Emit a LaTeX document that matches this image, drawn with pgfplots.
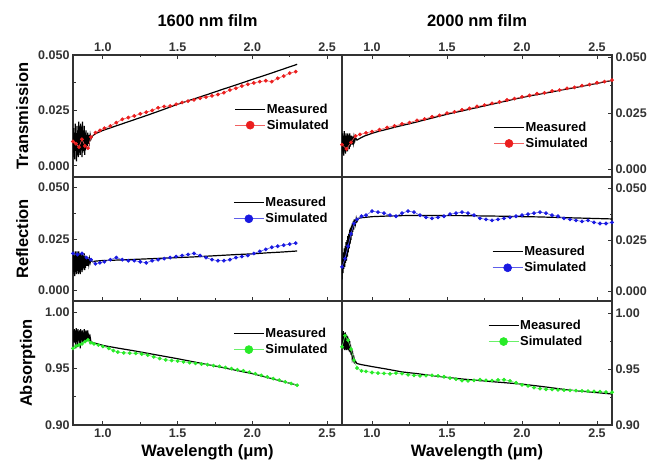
\documentclass[border=0pt]{standalone}
\usepackage{fontspec}
\setmainfont{Liberation Sans}
\usepackage{pgfplots}
\pgfplotsset{compat=1.18}

\definecolor{axgray}{RGB}{50,50,50}
\definecolor{simred}{RGB}{235,30,30}
\definecolor{simblue}{RGB}{25,25,225}
\definecolor{simgreen}{RGB}{40,235,40}

\pgfplotsset{
 panel/.style={
  scale only axis, width=269pt, xmin=0.8, xmax=2.6,
  scaled ticks=false,
  axis line style={axgray, line width=1.1pt},
  tick style={axgray, line width=0.9pt},
  major tick length=4pt, minor tick length=2.5pt,
  xtick={1.0,1.5,2.0,2.5}, xticklabels={1.0,1.5,2.0,2.5},
  minor x tick num=1, minor y tick num=1,
  tick label style={font=\fontsize{12.5}{14}\selectfont\bfseries, text=axgray},
  label style={font=\fontsize{16.5}{18}\selectfont\bfseries},
  ylabel style={yshift=3pt},
  legend style={draw=none, fill=none, font=\fontsize{13}{15}\selectfont\bfseries,
     anchor=north west, row sep=3pt, inner sep=0pt, nodes={inner sep=1pt}},
  legend cell align=left,
  legend image code/.code={\draw[mark repeat=2,mark phase=2,##1] plot coordinates {(0pt,0pt) (15pt,0pt) (30pt,0pt)};},
 },
 meas/.style={black, line width=1.2pt, mark=none},
 sim/.style={#1!70, line width=0.6pt, mark=*, mark size=1.6pt, mark options={fill=#1, draw=#1},
   legend image post style={mark size=4pt}},
 toprow/.style={height=122pt, xtick pos=right, xticklabel pos=right, xlabel style={yshift=9pt}},
 midrow/.style={height=124pt, xtick pos=left, xticklabels={}},
 botrow/.style={height=124pt, xtick pos=left, xticklabel pos=left, xlabel={Wavelength (μm)}},
 leftcol/.style={ytick pos=left, yticklabel pos=left},
 rightcol/.style={ytick pos=right, yticklabel pos=right},
}

\begin{document}
\begin{tikzpicture}[x=1pt,y=1pt]
\useasboundingbox (0,0) rectangle (660,470);

% ---------- top left: 1600 nm transmission
\begin{axis}[panel, toprow, leftcol, at={(73pt,293pt)}, anchor=south west,
  ymin=-0.005, ymax=0.050, ytick={0,0.025,0.05}, yticklabels={0.000,0.025,0.050},
  ylabel={Transmission}, xlabel={1600 nm film},
  legend style={at={(0.60,0.61)}}]
\addplot[meas] coordinates {(0.800,0.004)(0.803,0.017)(0.806,0.006)(0.809,0.015)(0.812,0.003)(0.815,0.019)(0.818,0.007)(0.821,0.014)(0.824,0.002)(0.827,0.018)(0.830,0.008)(0.833,0.016)(0.836,0.004)(0.839,0.020)(0.842,0.006)(0.845,0.015)(0.848,0.005)(0.851,0.019)(0.854,0.007)(0.857,0.017)(0.860,0.004)(0.863,0.020)(0.866,0.006)(0.869,0.016)(0.872,0.008)(0.875,0.018)(0.878,0.005)(0.881,0.015)(0.884,0.007)(0.887,0.016)(0.890,0.008)(0.893,0.014)(0.896,0.009)(0.899,0.015)(0.902,0.010)(0.906,0.014)(0.910,0.011)(0.915,0.014)(0.920,0.012)(0.930,0.0135)(0.95,0.0145)(1.00,0.0160)(1.10,0.0183)(1.20,0.0206)(1.30,0.0229)(1.40,0.0253)(1.50,0.0278)(1.60,0.0300)(1.70,0.0322)(1.80,0.0345)(1.90,0.0367)(2.00,0.0390)(2.10,0.0412)(2.20,0.0435)(2.30,0.0458)};
\addlegendentry{Measured}
\addplot[sim=simred] coordinates {(0.80,0.011)(0.82,0.010)(0.84,0.0085)(0.86,0.012)(0.88,0.009)(0.90,0.008)(0.92,0.013)(0.95,0.0150)(0.98,0.0160)(1.01,0.0170)(1.05,0.0180)(1.09,0.0195)(1.13,0.0210)(1.17,0.0218)(1.21,0.0225)(1.25,0.0235)(1.29,0.0242)(1.33,0.0250)(1.37,0.0262)(1.41,0.0268)(1.45,0.0270)(1.49,0.0278)(1.53,0.0286)(1.57,0.0292)(1.61,0.0298)(1.65,0.0305)(1.69,0.0310)(1.73,0.0316)(1.77,0.0322)(1.81,0.0330)(1.85,0.0342)(1.89,0.0350)(1.93,0.0360)(1.97,0.0368)(2.01,0.0374)(2.05,0.0380)(2.09,0.0384)(2.13,0.0380)(2.17,0.0395)(2.21,0.0405)(2.25,0.0418)(2.29,0.0425)};
\addlegendentry{Simulated}
\end{axis}

% ---------- top right: 2000 nm transmission
\begin{axis}[panel, toprow, rightcol, width=270pt, at={(342pt,293pt)}, anchor=south west,
  ymin=-0.0035, ymax=0.051, ytick={0,0.025,0.05}, yticklabels={0.000,0.025,0.050},
  xlabel={2000 nm film},
  legend style={at={(0.56,0.46)}}]
\addplot[meas] coordinates {(0.800,0.008)(0.803,0.016)(0.806,0.007)(0.809,0.015)(0.812,0.006)(0.815,0.017)(0.818,0.008)(0.821,0.015)(0.824,0.007)(0.827,0.016)(0.830,0.009)(0.833,0.015)(0.836,0.008)(0.839,0.016)(0.842,0.010)(0.845,0.015)(0.848,0.009)(0.851,0.016)(0.854,0.010)(0.857,0.015)(0.860,0.011)(0.864,0.015)(0.868,0.011)(0.872,0.0145)(0.876,0.012)(0.880,0.0145)(0.885,0.0125)(0.890,0.014)(0.900,0.013)(0.920,0.0138)(0.95,0.0148)(1.00,0.0160)(1.05,0.0170)(1.10,0.0178)(1.15,0.0187)(1.20,0.0195)(1.25,0.0203)(1.30,0.0211)(1.35,0.0220)(1.40,0.0228)(1.45,0.0237)(1.50,0.0245)(1.55,0.0253)(1.60,0.0260)(1.65,0.0268)(1.70,0.0275)(1.75,0.0283)(1.80,0.0290)(1.85,0.0298)(1.90,0.0305)(1.95,0.0313)(2.00,0.0320)(2.05,0.0327)(2.10,0.0333)(2.15,0.0339)(2.20,0.0345)(2.25,0.0352)(2.30,0.0358)(2.35,0.0364)(2.40,0.0370)(2.45,0.0377)(2.50,0.0383)(2.55,0.0390)(2.60,0.0396)};
\addlegendentry{Measured}
\addplot[sim=simred] coordinates {(0.80,0.011)(0.83,0.009)(0.86,0.012)(0.89,0.0148)(0.92,0.0155)(0.96,0.0162)(1.00,0.0168)(1.05,0.0176)(1.10,0.0186)(1.15,0.0193)(1.20,0.0202)(1.25,0.0208)(1.30,0.0218)(1.35,0.0224)(1.40,0.0234)(1.45,0.0240)(1.50,0.0250)(1.55,0.0256)(1.60,0.0265)(1.65,0.0271)(1.70,0.0280)(1.75,0.0286)(1.80,0.0294)(1.85,0.0300)(1.90,0.0309)(1.95,0.0315)(2.00,0.0323)(2.05,0.0329)(2.10,0.0337)(2.15,0.0341)(2.20,0.0349)(2.25,0.0353)(2.30,0.0361)(2.35,0.0365)(2.40,0.0373)(2.45,0.0378)(2.50,0.0386)(2.55,0.0391)(2.60,0.0398)};
\addlegendentry{Simulated}
\end{axis}

% ---------- middle left: 1600 nm reflection
\begin{axis}[panel, midrow, leftcol, at={(73pt,169pt)}, anchor=south west,
  ymin=-0.005, ymax=0.055, ytick={0,0.025,0.05}, yticklabels={0.000,0.025,0.050},
  ylabel={Reflection},
  legend style={at={(0.595,0.845)}}]
\addplot[meas] coordinates {(0.800,0.010)(0.803,0.018)(0.806,0.008)(0.809,0.017)(0.812,0.007)(0.815,0.019)(0.818,0.009)(0.821,0.018)(0.824,0.008)(0.827,0.019)(0.830,0.010)(0.833,0.017)(0.836,0.008)(0.839,0.019)(0.842,0.009)(0.845,0.018)(0.848,0.008)(0.851,0.018)(0.854,0.010)(0.857,0.017)(0.860,0.009)(0.863,0.018)(0.866,0.010)(0.869,0.017)(0.872,0.011)(0.875,0.018)(0.878,0.010)(0.881,0.017)(0.884,0.011)(0.887,0.016)(0.890,0.012)(0.894,0.016)(0.898,0.012)(0.902,0.016)(0.906,0.013)(0.910,0.0155)(0.915,0.0135)(0.920,0.015)(0.930,0.014)(0.95,0.0143)(1.00,0.0146)(1.10,0.0148)(1.20,0.0151)(1.30,0.0154)(1.40,0.0157)(1.50,0.0160)(1.60,0.0163)(1.70,0.0167)(1.80,0.0171)(1.90,0.0175)(2.00,0.0178)(2.10,0.0183)(2.20,0.0187)(2.30,0.0192)};
\addlegendentry{Measured}
\addplot[sim=simblue] coordinates {(0.80,0.018)(0.83,0.0175)(0.86,0.018)(0.89,0.016)(0.92,0.015)(0.95,0.013)(0.98,0.0135)(1.01,0.014)(1.05,0.015)(1.09,0.016)(1.13,0.015)(1.17,0.0145)(1.21,0.0145)(1.25,0.014)(1.29,0.0135)(1.33,0.0145)(1.37,0.015)(1.41,0.0155)(1.45,0.016)(1.49,0.0165)(1.53,0.017)(1.57,0.0175)(1.61,0.018)(1.65,0.017)(1.69,0.016)(1.73,0.015)(1.77,0.0145)(1.81,0.0145)(1.85,0.015)(1.89,0.016)(1.93,0.0165)(1.97,0.017)(2.01,0.018)(2.05,0.019)(2.09,0.020)(2.13,0.021)(2.17,0.0215)(2.21,0.022)(2.25,0.0225)(2.29,0.023)};
\addlegendentry{Simulated}
\end{axis}

% ---------- middle right: 2000 nm reflection
\begin{axis}[panel, midrow, rightcol, width=270pt, at={(342pt,169pt)}, anchor=south west,
  ymin=-0.0045, ymax=0.0555, ytick={0,0.025,0.05}, yticklabels={0.000,0.025,0.050},
  legend style={at={(0.555,0.45)}}]
\addplot[meas] coordinates {(0.800,0.006)(0.803,0.016)(0.806,0.009)(0.809,0.019)(0.812,0.011)(0.815,0.021)(0.818,0.012)(0.821,0.022)(0.824,0.014)(0.827,0.024)(0.830,0.015)(0.833,0.025)(0.836,0.017)(0.839,0.027)(0.842,0.019)(0.845,0.028)(0.848,0.021)(0.851,0.030)(0.854,0.023)(0.857,0.031)(0.860,0.025)(0.863,0.032)(0.866,0.027)(0.869,0.033)(0.872,0.029)(0.875,0.034)(0.878,0.030)(0.881,0.035)(0.884,0.032)(0.887,0.035)(0.890,0.033)(0.895,0.0355)(0.900,0.034)(0.910,0.0355)(0.930,0.0358)(0.960,0.0360)(1.00,0.0363)(1.10,0.0366)(1.20,0.0368)(1.30,0.0369)(1.40,0.0369)(1.50,0.0368)(1.60,0.0368)(1.70,0.0367)(1.80,0.0366)(1.90,0.0365)(2.00,0.0363)(2.10,0.0362)(2.20,0.0360)(2.30,0.0358)(2.40,0.0356)(2.50,0.0354)(2.60,0.0352)};
\addlegendentry{Measured}
\addplot[sim=simblue] coordinates {(0.80,0.012)(0.82,0.016)(0.84,0.022)(0.86,0.028)(0.88,0.033)(0.90,0.035)(0.93,0.0365)(0.96,0.037)(1.00,0.039)(1.04,0.0385)(1.08,0.038)(1.12,0.037)(1.16,0.0365)(1.20,0.038)(1.24,0.039)(1.28,0.0385)(1.32,0.037)(1.36,0.036)(1.40,0.0355)(1.44,0.036)(1.48,0.0365)(1.52,0.0375)(1.56,0.038)(1.60,0.0385)(1.64,0.038)(1.68,0.037)(1.72,0.0355)(1.76,0.035)(1.80,0.0345)(1.84,0.035)(1.88,0.0355)(1.92,0.036)(1.96,0.0365)(2.00,0.037)(2.04,0.0375)(2.08,0.038)(2.12,0.0385)(2.16,0.038)(2.20,0.037)(2.24,0.0365)(2.28,0.0355)(2.32,0.035)(2.36,0.0345)(2.40,0.034)(2.44,0.0345)(2.48,0.0335)(2.52,0.033)(2.56,0.033)(2.60,0.0335)};
\addlegendentry{Simulated}
\end{axis}

% ---------- bottom left: 1600 nm absorption
\begin{axis}[panel, botrow, leftcol, at={(73pt,45pt)}, anchor=south west,
  ymin=0.90, ymax=1.01, ytick={0.90,0.95,1.00}, yticklabels={0.90,0.95,1.00},
  ylabel={Absorption},
  legend style={at={(0.595,0.79)}}]
\addplot[meas] coordinates {(0.800,0.975)(0.803,0.984)(0.806,0.973)(0.809,0.985)(0.812,0.974)(0.815,0.983)(0.818,0.968)(0.821,0.986)(0.824,0.974)(0.827,0.984)(0.830,0.969)(0.833,0.985)(0.836,0.975)(0.839,0.983)(0.842,0.973)(0.845,0.984)(0.848,0.968)(0.851,0.985)(0.854,0.975)(0.857,0.983)(0.860,0.973)(0.863,0.984)(0.866,0.974)(0.869,0.982)(0.872,0.973)(0.875,0.985)(0.878,0.974)(0.881,0.983)(0.884,0.975)(0.887,0.984)(0.890,0.974)(0.893,0.983)(0.896,0.975)(0.899,0.984)(0.902,0.975)(0.906,0.981)(0.910,0.975)(0.915,0.978)(0.920,0.974)(0.935,0.973)(0.95,0.9725)(1.00,0.9706)(1.10,0.9682)(1.20,0.9660)(1.30,0.9636)(1.40,0.9612)(1.50,0.9588)(1.60,0.9562)(1.70,0.9536)(1.80,0.9510)(1.90,0.9483)(2.00,0.9456)(2.10,0.9422)(2.20,0.9388)(2.30,0.9353)};
\addlegendentry{Measured}
\addplot[sim=simgreen] coordinates {(0.80,0.968)(0.82,0.970)(0.84,0.971)(0.86,0.972)(0.88,0.974)(0.90,0.9755)(0.92,0.973)(0.94,0.972)(0.97,0.971)(1.00,0.9697)(1.04,0.968)(1.07,0.966)(1.10,0.9647)(1.14,0.9640)(1.18,0.9638)(1.22,0.9636)(1.26,0.9630)(1.30,0.9620)(1.34,0.9605)(1.38,0.9590)(1.42,0.9578)(1.46,0.9572)(1.50,0.9567)(1.54,0.9560)(1.58,0.9553)(1.62,0.9547)(1.66,0.9541)(1.70,0.9535)(1.74,0.9527)(1.78,0.9520)(1.82,0.9510)(1.86,0.9500)(1.90,0.9490)(1.94,0.9480)(1.98,0.9468)(2.02,0.9455)(2.06,0.9440)(2.10,0.9426)(2.14,0.9412)(2.18,0.9398)(2.22,0.9383)(2.26,0.9368)(2.30,0.9353)};
\addlegendentry{Simulated}
\end{axis}

% ---------- bottom right: 2000 nm absorption
\begin{axis}[panel, botrow, rightcol, width=270pt, at={(342pt,45pt)}, anchor=south west,
  ymin=0.90, ymax=1.011, ytick={0.90,0.95,1.00}, yticklabels={0.90,0.95,1.00},
  legend style={at={(0.54,0.855)}}]
\addplot[meas] coordinates {(0.800,0.970)(0.803,0.982)(0.806,0.968)(0.809,0.984)(0.812,0.969)(0.815,0.982)(0.818,0.967)(0.821,0.983)(0.824,0.968)(0.827,0.981)(0.830,0.967)(0.833,0.980)(0.836,0.968)(0.839,0.979)(0.842,0.967)(0.845,0.977)(0.848,0.966)(0.851,0.975)(0.854,0.965)(0.857,0.972)(0.860,0.963)(0.864,0.968)(0.868,0.960)(0.872,0.963)(0.876,0.958)(0.880,0.960)(0.885,0.956)(0.890,0.957)(0.90,0.955)(0.93,0.9540)(0.96,0.9533)(1.00,0.9523)(1.10,0.9500)(1.20,0.9475)(1.30,0.9460)(1.40,0.9442)(1.50,0.9426)(1.60,0.9412)(1.70,0.9400)(1.80,0.9388)(1.90,0.9377)(2.00,0.9366)(2.10,0.9350)(2.20,0.9333)(2.30,0.9315)(2.40,0.9302)(2.50,0.9290)(2.60,0.9277)};
\addlegendentry{Measured}
\addplot[sim=simgreen] coordinates {(0.80,0.970)(0.82,0.980)(0.84,0.976)(0.86,0.968)(0.88,0.958)(0.90,0.951)(0.93,0.9485)(0.96,0.9480)(1.00,0.9470)(1.04,0.9465)(1.08,0.9462)(1.12,0.9458)(1.16,0.9465)(1.20,0.9460)(1.24,0.9450)(1.28,0.9445)(1.32,0.9440)(1.36,0.9442)(1.40,0.9445)(1.44,0.9440)(1.48,0.9432)(1.52,0.9420)(1.56,0.9410)(1.60,0.9398)(1.64,0.9395)(1.68,0.9400)(1.72,0.9405)(1.76,0.9400)(1.80,0.9398)(1.84,0.9403)(1.88,0.9405)(1.92,0.9395)(1.96,0.9378)(2.00,0.9360)(2.04,0.9350)(2.08,0.9335)(2.12,0.9325)(2.16,0.9320)(2.20,0.9318)(2.24,0.9315)(2.28,0.9312)(2.32,0.9310)(2.36,0.9308)(2.40,0.9305)(2.44,0.9303)(2.48,0.9300)(2.52,0.9298)(2.56,0.9295)(2.60,0.9293)};
\addlegendentry{Simulated}
\end{axis}
\end{tikzpicture}
\end{document}
